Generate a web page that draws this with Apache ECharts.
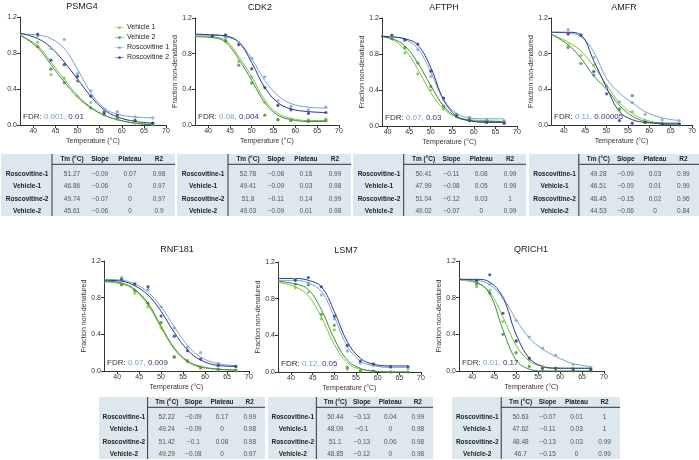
<!DOCTYPE html>
<html><head><meta charset="utf-8">
<script src="https://cdn.jsdelivr.net/npm/echarts@6/dist/echarts.min.js"></script>
<style>html,body{margin:0;padding:0;background:#fff}#c{width:699px;height:460px}</style>
</head><body><div id="c"></div>
<script>
// ---------------- DATA ----------------
const genes = ['PSMG4','CDK2','AFTPH','AMFR','RNF181','LSM7','QRICH1'];
const seriesNames = ['Vehicle 1','Vehicle 2','Roscovitine 1','Roscovitine 2'];
const pointTemps = [41,44,47,50,53,56,59,63,67];
const curveTemps = [37,41,44,47,50,53,56,59,63,67];
const xTickLabels = [40,45,50,55,60,65,70];
const fdrValues = [['0.001','0.01'],['0.08','0.004'],['0.07','0.03'],['0.11','0.00005'],['0.07','0.009'],['0.12','0.05'],['0.01','0.17']];

// curves (fitted lines), order: Vehicle 1, Vehicle 2, Roscovitine 1, Roscovitine 2
const curvePSMG4 = [[1.0,0.88,0.70,0.51,0.33,0.20,0.11,0.06,0.02,0.01],[1.0,0.86,0.67,0.48,0.31,0.19,0.11,0.06,0.02,0.0],[1.01,1.0,0.96,0.85,0.62,0.36,0.19,0.12,0.09,0.08],[1.02,0.96,0.86,0.70,0.51,0.32,0.17,0.09,0.04,0.02]];
const curveCDK2 = [[1.0,0.99,0.95,0.77,0.54,0.28,0.13,0.075,0.05,0.05],[0.99,0.98,0.93,0.74,0.5,0.25,0.11,0.06,0.04,0.04],[1.01,1.01,0.99,0.93,0.74,0.5,0.33,0.24,0.2,0.19],[1.02,1.01,1.0,0.93,0.7,0.42,0.25,0.18,0.15,0.14]];
const curveAFTPH = [[1.01,0.96,0.85,0.63,0.37,0.19,0.1,0.07,0.06,0.05],[1.0,0.97,0.89,0.7,0.45,0.22,0.1,0.06,0.05,0.05],[1.0,0.99,0.96,0.86,0.6,0.29,0.14,0.09,0.08,0.08],[1.0,0.99,0.97,0.9,0.65,0.29,0.11,0.06,0.04,0.04]];
const curveAMFR = [[1.02,0.93,0.83,0.66,0.45,0.25,0.13,0.06,0.02,0.01],[1.02,0.9,0.75,0.55,0.4,0.22,0.1,0.04,0.01,0.0],[1.04,1.03,0.99,0.82,0.52,0.36,0.25,0.15,0.08,0.05],[1.04,1.04,1.01,0.72,0.42,0.15,0.06,0.03,0.02,0.02]];
const curveRNF181 = [[0.97,0.95,0.88,0.72,0.47,0.24,0.1,0.04,0.02,0.01],[0.98,0.96,0.89,0.74,0.49,0.25,0.11,0.05,0.02,0.01],[1.0,0.99,0.95,0.86,0.70,0.48,0.28,0.15,0.08,0.06],[0.99,0.98,0.93,0.83,0.65,0.42,0.23,0.12,0.06,0.05]];
const curveLSM7 = [[0.98,0.93,0.83,0.6,0.3,0.1,0.03,0.01,0.0,0.0],[0.99,0.96,0.9,0.68,0.36,0.13,0.04,0.01,0.0,0.0],[1.0,1.0,0.97,0.88,0.6,0.28,0.12,0.07,0.05,0.05],[1.02,1.02,1.0,0.93,0.66,0.33,0.15,0.085,0.066,0.066]];
const curveQRICH1 = [[0.99,0.96,0.86,0.59,0.28,0.11,0.05,0.035,0.03,0.03],[1.0,0.97,0.84,0.45,0.12,0.02,0.0,0.0,0.0,0.0],[1.0,0.99,0.94,0.8,0.56,0.36,0.24,0.16,0.08,0.05],[1.0,1.0,0.97,0.8,0.4,0.14,0.05,0.03,0.03,0.03]];

// measured points, same order
const pointsPSMG4 = [[0.92,0.56,0.52,0.32,0.25,0.11,0.06,0.02,0.0],[0.87,0.62,0.47,0.49,0.19,0.12,0.08,0.05,0.02],[0.99,0.85,0.95,0.57,0.38,0.17,0.15,0.09,0.08],[1.01,0.72,0.67,0.54,0.32,0.14,0.11,0.05,0.02]];
const pointsCDK2 = [[1.0,0.95,0.71,0.54,0.25,0.06,0.06,0.06,0.07],[1.0,0.94,0.67,0.47,0.11,0.06,0.05,0.04,0.05],[1.0,0.98,0.93,0.75,0.54,0.27,0.21,0.17,0.2],[1.0,1.01,0.9,0.63,0.42,0.22,0.17,0.13,0.14]];
const pointsAFTPH = [[0.99,0.81,0.58,0.40,0.19,0.1,0.06,0.05,0.04],[0.97,0.87,0.70,0.44,0.22,0.13,0.08,0.06,0.05],[1.0,0.95,0.85,0.55,0.29,0.12,0.1,0.07,0.06],[1.01,0.96,0.91,0.61,0.31,0.11,0.06,0.04,0.03]];
const pointsAMFR = [[0.9,0.78,0.67,0.42,0.16,0.15,0.04,0.02,0.01],[0.87,0.69,0.56,0.43,0.18,0.33,0.03,0.01,0.0],[1.07,1.0,0.76,0.42,0.26,0.25,0.12,0.06,0.05],[1.02,1.01,0.6,0.35,0.05,0.02,0.03,0.01,0.01]];
const pointsRNF181 = [[0.95,0.85,0.70,0.47,0.16,0.1,0.03,0.01,0.0],[0.94,0.88,0.74,0.53,0.15,0.11,0.04,0.02,0.01],[1.02,0.94,0.89,0.7,0.47,0.26,0.2,0.08,0.05],[1.0,0.95,0.92,0.6,0.38,0.22,0.13,0.06,0.05]];
const pointsLSM7 = [[0.92,0.87,0.58,0.46,0.03,0.01,0.01,0.0,0.0],[0.96,0.95,0.63,0.51,0.05,0.01,0.01,0.0,0.0],[1.01,0.97,0.84,0.58,0.23,0.1,0.07,0.05,0.04],[1.0,1.03,0.93,0.61,0.29,0.12,0.09,0.06,0.06]];
const pointsQRICH1 = [[0.92,0.88,0.54,0.32,0.12,0.05,0.03,0.03,0.02],[0.95,0.85,0.4,0.2,0.05,0.0,0.0,0.0,0.0],[0.98,0.95,0.8,0.55,0.37,0.25,0.17,0.07,0.04],[0.99,1.05,0.63,0.33,0.14,0.03,0.03,0.02,0.02]];

// tables
const tableRowLabels = ['Roscovitine-1','Vehicle-1','Roscovitine-2','Vehicle-2'];
const tableHeaders = ['Tm (°C)','Slope','Plateau','R2'];
const tablePSMG4 = [['51.27','−0.09','0.07','0.98'],['46.86','−0.06','0','0.97'],['49.74','−0.07','0','0.97'],['45.61','−0.06','0','0.9']];
const tableCDK2 = [['52.78','−0.08','0.16','0.99'],['49.41','−0.09','0.03','0.98'],['51.8','−0.11','0.14','0.99'],['49.03','−0.09','0.01','0.98']];
const tableAFTPH = [['50.41','−0.11','0.08','0.99'],['47.99','−0.08','0.05','0.99'],['51.04','−0.12','0.03','1'],['49.02','−0.07','0','0.99']];
const tableAMFR = [['49.28','−0.09','0.03','0.99'],['46.51','−0.09','0.01','0.99'],['48.45','−0.15','0.02','0.96'],['44.53','−0.06','0','0.84']];
const tableRNF181 = [['52.22','−0.09','0.17','0.99'],['49.24','−0.09','0','0.98'],['51.42','−0.1','0.08','0.98'],['49.29','−0.08','0','0.97']];
const tableLSM7 = [['50.44','−0.13','0.04','0.99'],['48.09','−0.1','0','0.98'],['51.1','−0.13','0.06','0.98'],['48.85','−0.12','0','0.98']];
const tableQRICH1 = [['50.63','−0.07','0.01','1'],['47.62','−0.11','0.03','1'],['48.48','−0.13','0.03','0.99'],['46.7','−0.15','0','0.99']];

const curves = [curvePSMG4,curveCDK2,curveAFTPH,curveAMFR,curveRNF181,curveLSM7,curveQRICH1];
const points = [pointsPSMG4,pointsCDK2,pointsAFTPH,pointsAMFR,pointsRNF181,pointsLSM7,pointsQRICH1];
const tables = [tablePSMG4,tableCDK2,tableAFTPH,tableAMFR,tableRNF181,tableLSM7,tableQRICH1];

// ---------------- LAYOUT / STYLE ----------------
const COLORS = ['#7dc242','#3b8c3b','#6ea6cf','#2f3190'];
const FONT = '"Liberation Sans", Arial, sans-serif';
const layout = [
  {left:20, top:17, w:146, h:108, xmin:37, tx:82, ty:7, yname:false, tbx:1, tby:154, tbw:174},
  {left:195, top:18, w:144, h:107, xmin:37, tx:260, ty:8, yname:true, tbx:177, tby:154, tbw:174},
  {left:382, top:18, w:135, h:108, xmin:38.7, tx:444, ty:8, yname:true, tbx:353, tby:154, tbw:173},
  {left:551, top:18, w:142, h:107, xmin:37, tx:624, ty:8, yname:true, tbx:529, tby:154, tbw:170},
  {left:104, top:261, w:145, h:110, xmin:37, tx:177, ty:250, yname:true, tbx:99, tby:397, tbw:166},
  {left:278, top:262, w:143, h:110, xmin:37, tx:346, ty:251, yname:true, tbx:268, tby:397, tbw:165},
  {left:459, top:261, w:145, h:110, xmin:37, tx:531, ty:250, yname:true, tbx:452, tby:397, tbw:168}
];
// table inner layout as fractions of table width (columns) and pixel offsets (rows)
const TB = {h:62, div:0.293, cols:[0.408,0.569,0.741,0.908], label:0.15, headY:5, lineY:10.3, rows:[20,32.7,45,57.7]};

const grids=[], xAxes=[], yAxes=[], series=[], graphics=[];
layout.forEach((L,i)=>{
  grids.push({left:L.left, top:L.top, width:L.w, height:L.h});
  xAxes.push({gridIndex:i, type:'value', min:L.xmin, max:70,
    axisLine:{show:true, onZero:false, lineStyle:{color:'#333', width:1}},
    axisTick:{show:true, length:3, customValues:xTickLabels, lineStyle:{color:'#333'}},
    axisLabel:{customValues:xTickLabels, fontSize:7, color:'#333', margin:3, fontFamily:FONT},
    splitLine:{show:false},
    name:'Temperature (°C)', nameLocation:'middle', nameGap:13,
    nameTextStyle:{fontSize:7, color:'#333', fontFamily:FONT}});
  yAxes.push({gridIndex:i, type:'value', min:0, max:1.2, interval:0.4,
    axisLine:{show:true, lineStyle:{color:'#333', width:1}},
    axisTick:{show:true, length:3, lineStyle:{color:'#333'}},
    axisLabel:{fontSize:7, color:'#333', margin:3, fontFamily:FONT, formatter:v=>v.toFixed(1)},
    splitLine:{show:false},
    name: L.yname ? 'Fraction non-denatured' : '', nameLocation:'middle', nameGap:10,
    nameTextStyle:{fontSize:7, color:'#333', fontFamily:FONT}});
  seriesNames.forEach((n,k)=>{
    series.push({type:'line', name:n, xAxisIndex:i, yAxisIndex:i, smooth:0.4, showSymbol:false, symbol:'none', clip:true, silent:true,
      data: curveTemps.map((t,j)=>[t, curves[i][k][j]]),
      lineStyle:{color:COLORS[k], width:1}, itemStyle:{color:COLORS[k]}, z:2});
    series.push({type:'scatter', name:n, xAxisIndex:i, yAxisIndex:i, symbol:'circle', symbolSize:3.2, silent:true,
      data: pointTemps.map((t,j)=>[t, points[i][k][j]]),
      itemStyle:{color:COLORS[k]}, z:3});
  });
  // title
  graphics.push({type:'text', x:L.tx, y:L.ty, silent:true, style:{text:genes[i], fill:'#222', font:'9px '+FONT, textAlign:'center', textVerticalAlign:'middle', align:'center', verticalAlign:'middle'}});
  // FDR
  graphics.push({type:'text', x:L.left+3, y:L.top+L.h-8.5, silent:true, z:10, style:{
    text:'{a|FDR: }{b|'+fdrValues[i][0]+', }{c|'+fdrValues[i][1]+'}',
    textAlign:'left', textVerticalAlign:'middle', align:'left', verticalAlign:'middle',
    font:'8px '+FONT,
    rich:{a:{fill:'#333', font:'8px '+FONT}, b:{fill:'#6ea6cf', font:'8px '+FONT}, c:{fill:'#2f3190', font:'8px '+FONT}}}});
  // table
  const x0=L.tbx, y0=L.tby, W=L.tbw;
  graphics.push({type:'rect', silent:true, shape:{x:x0, y:y0, width:W, height:TB.h}, style:{fill:'#dce7ee'}});
  graphics.push({type:'line', silent:true, shape:{x1:x0+TB.div*W, y1:y0, x2:x0+TB.div*W, y2:y0+TB.h}, style:{stroke:'#333', lineWidth:1}});
  graphics.push({type:'line', silent:true, shape:{x1:x0+TB.div*W, y1:y0+TB.lineY, x2:x0+W, y2:y0+TB.lineY}, style:{stroke:'#333', lineWidth:1}});
  tableHeaders.forEach((h,c)=>{
    graphics.push({type:'text', x:x0+TB.cols[c]*W, y:y0+TB.headY, silent:true, style:{text:h, fill:'#222', font:'bold 6.5px '+FONT, textAlign:'center', textVerticalAlign:'middle', align:'center', verticalAlign:'middle'}});
  });
  tableRowLabels.forEach((r,ri)=>{
    graphics.push({type:'text', x:x0+TB.label*W, y:y0+TB.rows[ri], silent:true, style:{text:r, fill:'#222', font:'bold 6.5px '+FONT, textAlign:'center', textVerticalAlign:'middle', align:'center', verticalAlign:'middle'}});
    tables[i][ri].forEach((v,c)=>{
      graphics.push({type:'text', x:x0+TB.cols[c]*W, y:y0+TB.rows[ri], silent:true, style:{text:v, fill:'#555', font:'6.5px '+FONT, textAlign:'center', textVerticalAlign:'middle', align:'center', verticalAlign:'middle'}});
    });
  });
});

const chart = echarts.init(document.getElementById('c'), null, {renderer:'canvas'});
chart.setOption({
  animation:false,
  backgroundColor:'#fff',
  textStyle:{fontFamily:FONT},
  grid:grids, xAxis:xAxes, yAxis:yAxes, series:series,
  legend:{left:110, top:19, orient:'vertical', itemWidth:9, itemHeight:3.5, itemGap:3,
    textStyle:{fontSize:7, color:'#222', fontFamily:FONT, padding:[0,0,0,-2]},
    data: seriesNames.map(n=>({name:n, icon:'path://M0,3.5L24,3.5L24,4.5L0,4.5Z M9,1L15,1L15,7L9,7Z'}))},
  graphic:{elements:graphics}
});
</script></body></html>
